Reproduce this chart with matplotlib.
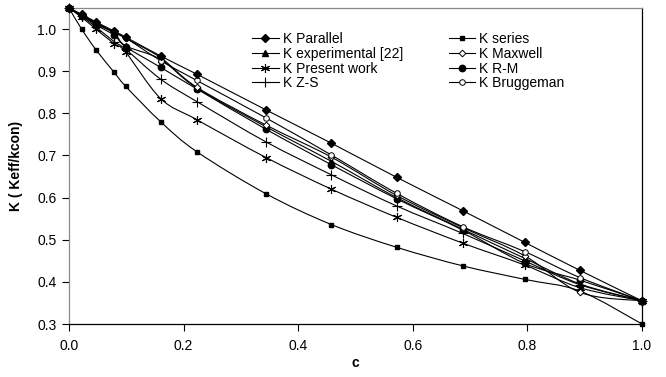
import matplotlib
matplotlib.use("Agg")
import matplotlib.pyplot as plt
from matplotlib.path import Path
from matplotlib.patches import PathPatch
from matplotlib.lines import Line2D
import numpy as np

plt.rcParams['font.family'] = ['Liberation Sans', 'DejaVu Sans']

c = [0.0, 0.022, 0.047, 0.079, 0.099, 0.16, 0.223, 0.344, 0.458, 0.572, 0.687, 0.795, 0.892, 1.0]

k_parallel = [1.05, 1.035, 1.017, 0.995, 0.981, 0.936, 0.893, 0.808, 0.729, 0.648, 0.569, 0.494, 0.427, 0.355]
k_series = [1.05, 1.0, 0.951, 0.897, 0.864, 0.780, 0.709, 0.609, 0.536, 0.482, 0.438, 0.406, 0.378, 0.30]
k_experimental = [1.05, 1.033, 1.012, 0.99, 0.96, 0.928, 0.86, 0.768, 0.686, 0.600, 0.525, 0.456, 0.395, 0.355]
k_present = [1.05, 1.028, 1.0, 0.965, 0.945, 0.835, 0.785, 0.695, 0.620, 0.553, 0.492, 0.440, 0.386, 0.355]
k_zs = [1.05, 1.03, 1.005, 0.97, 0.952, 0.881, 0.828, 0.732, 0.654, 0.580, 0.515, 0.450, 0.393, 0.355]
k_maxwell = [1.05, 1.034, 1.014, 0.992, 0.978, 0.932, 0.862, 0.772, 0.696, 0.605, 0.529, 0.462, 0.375, 0.355]
k_rm = [1.05, 1.032, 1.010, 0.985, 0.958, 0.909, 0.858, 0.762, 0.678, 0.597, 0.523, 0.444, 0.404, 0.355]
k_bruggeman = [1.05, 1.034, 1.015, 0.993, 0.979, 0.925, 0.878, 0.789, 0.701, 0.610, 0.531, 0.472, 0.410, 0.355]

labels_col = ["K Parallel", "K experimental [22]", "K Present work", "K Z-S",
              "K series", "K Maxwell", "K R-M", "K Bruggeman"]

x_ticks = [0.0, 0.2, 0.4, 0.6, 0.8, 1.0]
y_ticks = [0.3, 0.4, 0.5, 0.6, 0.7, 0.8, 0.9, 1.0]

ASTER = (6, 2, 0)
styles = {
    "K Parallel": dict(marker='D', ms=4.2, mfc='black', mec='black'),
    "K experimental [22]": dict(marker='^', ms=5, mfc='black', mec='black'),
    "K Present work": dict(marker=ASTER, ms=6.5, mfc='black', mec='black', mew=0.8),
    "K Z-S": dict(marker='+', ms=6.5, mfc='black', mec='black', mew=0.8),
    "K series": dict(marker='s', ms=2.4, mfc='black', mec='black'),
    "K Maxwell": dict(marker='D', ms=3.4, mfc='white', mec='black', mew=0.7),
    "K R-M": dict(marker='o', ms=4.6, mfc='black', mec='black'),
    "K Bruggeman": dict(marker='o', ms=4.0, mfc='white', mec='black', mew=0.7),
}
data = {
    "K Parallel": k_parallel,
    "K experimental [22]": k_experimental,
    "K Present work": k_present,
    "K Z-S": k_zs,
    "K series": k_series,
    "K Maxwell": k_maxwell,
    "K R-M": k_rm,
    "K Bruggeman": k_bruggeman,
}


def smooth_path(x, y):
    P = np.column_stack([x, y]).astype(float)
    n = len(P)
    verts = [P[0]]
    codes = [Path.MOVETO]
    for i in range(n - 1):
        p0 = P[i - 1] if i > 0 else P[i]
        p1 = P[i]
        p2 = P[i + 1]
        p3 = P[i + 2] if i + 2 < n else P[i + 1]
        c1 = p1 + (p2 - p0) / 6.0
        c2 = p2 - (p3 - p1) / 6.0
        verts += [c1, c2, p2]
        codes += [Path.CURVE4] * 3
    return Path(verts, codes)


fig = plt.figure(figsize=(6.66, 3.77), dpi=100)
ax = fig.add_axes([69 / 666, 1 - 324 / 377, (642 - 69) / 666, (324 - 8) / 377])

draw_order = ["K series", "K Present work", "K Z-S", "K R-M", "K experimental [22]",
              "K Maxwell", "K Bruggeman", "K Parallel"]
for name in draw_order:
    y = data[name]
    ax.add_patch(PathPatch(smooth_path(c, y), fill=False, edgecolor='black', lw=0.8, zorder=2))
    ax.plot(c, y, linestyle='none', zorder=3, clip_on=False, **styles[name])

handles = []
for name in labels_col:
    handles.append(Line2D([0], [0], color='black', lw=0.8, **styles[name]))

leg = ax.legend(handles, labels_col, ncol=2, loc='upper left',
                bbox_to_anchor=(248 / 666, 1 - 28 / 377), bbox_transform=fig.transFigure,
                frameon=True, fancybox=False, framealpha=1, edgecolor='none',
                fontsize=10, handlelength=1.9, handletextpad=0.3, labelspacing=0.05,
                columnspacing=3.3, borderpad=0.3, borderaxespad=0)
leg.set_zorder(5)

ax.set_xlim(0, 1.0)
ax.set_ylim(0.3, 1.05)
ax.set_xticks(x_ticks)
ax.set_xticklabels([f"{t:.1f}" for t in x_ticks])
ax.set_yticks(y_ticks)
ax.set_yticklabels([f"{t:.1f}" for t in y_ticks])
ax.tick_params(axis='both', direction='out', length=5, width=0.8, labelsize=10, colors='black')
ax.tick_params(axis='y', pad=4)
ax.tick_params(axis='x', pad=6)
for s in ['left', 'top']:
    ax.spines[s].set_color('#888888')
for s in ['right', 'bottom']:
    ax.spines[s].set_color('black')
for s in ax.spines.values():
    s.set_linewidth(0.9)

ax.set_xlabel("c", fontsize=10, fontweight='bold', labelpad=2)
ax.set_ylabel("K ( Keff/kcon)", fontsize=10, fontweight='bold', labelpad=10)

fig.savefig("out.png", dpi=100)
